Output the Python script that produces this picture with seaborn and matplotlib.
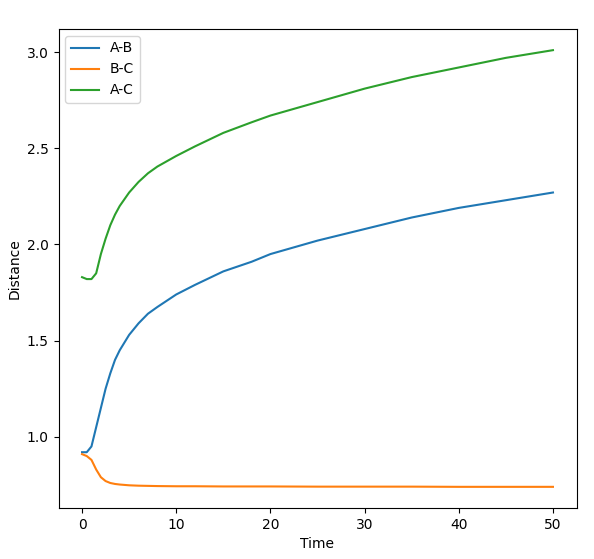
import matplotlib
matplotlib.use("Agg")
import matplotlib.pyplot as plt
import seaborn as sns
import pandas as pd

time = [0, 0.5, 1, 1.5, 2, 2.5, 3, 3.5, 4, 5, 6, 7, 8, 10, 12, 15, 18, 20, 25, 30, 35, 40, 45, 50]
ab = [0.92, 0.92, 0.95, 1.05, 1.15, 1.25, 1.33, 1.40, 1.45, 1.53, 1.59, 1.64, 1.675, 1.74, 1.79, 1.86, 1.91, 1.95, 2.02, 2.08, 2.14, 2.19, 2.23, 2.27]
bc = [0.91, 0.90, 0.88, 0.83, 0.79, 0.77, 0.76, 0.755, 0.752, 0.748, 0.746, 0.745, 0.744, 0.743, 0.743, 0.742, 0.742, 0.742, 0.741, 0.741, 0.741, 0.74, 0.74, 0.74]
ac = [1.83, 1.82, 1.82, 1.85, 1.95, 2.03, 2.10, 2.155, 2.20, 2.27, 2.325, 2.37, 2.405, 2.46, 2.51, 2.58, 2.635, 2.67, 2.74, 2.81, 2.87, 2.92, 2.97, 3.01]

df = pd.DataFrame({"Time": time * 3,
                   "Distance": ab + bc + ac,
                   "pair": ["A-B"] * len(time) + ["B-C"] * len(time) + ["A-C"] * len(time)})

fig = plt.figure(figsize=(5.94, 5.59), dpi=100)
ax = fig.add_axes([58.5/594, 1 - 508/559, (576.5-58.5)/594, (508-29)/559])
sns.lineplot(data=df, x="Time", y="Distance", hue="pair", ax=ax,
             palette=["#1f77b4", "#ff7f0e", "#2ca02c"], linewidth=1.5)
ax.legend(loc="upper left", title=None)
ax.set_xlim(-2.5, 52.5)
ax.set_ylim(0.63, 3.12)
fig.savefig("out.png", dpi=100)
